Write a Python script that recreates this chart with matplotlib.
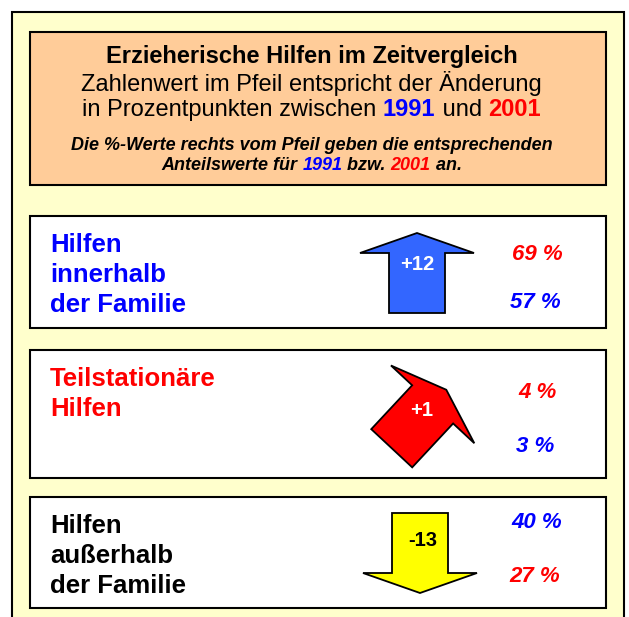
import numpy as np
import matplotlib.pyplot as plt
from matplotlib.patches import Rectangle, Polygon

plt.rcParams['font.family'] = ['Liberation Sans', 'DejaVu Sans']

# data
labels = [['Hilfen', 'innerhalb', 'der Familie'],
          ['Teilstationäre', 'Hilfen'],
          ['Hilfen', 'außerhalb', 'der Familie']]
label_colors = ['#0000FF', '#FF0000', '#000000']
arrow_colors = ['#3366FF', '#FF0000', '#FFFF00']
arrow_text_colors = ['white', 'white', 'black']
changes = ['+12', '+1', '-13']
arrow_angles = [90, 47, -90]
values_1991 = [57, 3, 40]
values_2001 = [69, 4, 27]

BLUE = '#0000FF'
RED = '#FF0000'

# layout (pixel coordinates, y down)
W, H = 629, 617
box_tops = [216, 350, 497]
box_bottoms = [328, 478, 608]
arrow_centers = [(417, 273), (419, 419), (420, 553)]
value_y = [(255, 302), (393, 447), (523, 577)]

fig = plt.figure(figsize=(W / 100, H / 100), dpi=100)
ax = fig.add_axes([0, 0, 1, 1])
ax.set_xlim(0, W)
ax.set_ylim(H, 0)
ax.axis('off')

# outer panel
ax.add_patch(Rectangle((12, 12), 612, 620, facecolor='#FFFFCC', edgecolor='black', lw=1.5))
# header
ax.add_patch(Rectangle((30, 32), 576, 153, facecolor='#FFCC99', edgecolor='black', lw=1.5))

renderer = fig.canvas.get_renderer()


def colored_line(y, parts, size, style='normal'):
    # parts: list of (text, color, weight)
    texts = []
    for s, c, w in parts:
        t = ax.text(0, y, s, color=c, fontsize=size, fontweight=w, fontstyle=style,
                    ha='left', va='center')
        texts.append(t)
    widths = [t.get_window_extent(renderer).width for t in texts]
    x = W / 2 - 3 - sum(widths) / 2
    for t, w in zip(texts, widths):
        t.set_x(x)
        x += w


ax.text(W / 2 - 3, 57, 'Erzieherische Hilfen im Zeitvergleich', fontsize=17,
        fontweight='bold', ha='center', va='center')
ax.text(W / 2 - 3, 84, 'Zahlenwert im Pfeil entspricht der Änderung', fontsize=17,
        ha='center', va='center')
colored_line(110, [('in Prozentpunkten zwischen ', 'black', 'normal'),
                   ('1991', BLUE, 'bold'), (' und ', 'black', 'normal'),
                   ('2001', RED, 'bold')], 17)
ax.text(W / 2 - 3, 145, 'Die %-Werte rechts vom Pfeil geben die entsprechenden',
        fontsize=13, fontweight='bold', fontstyle='italic', ha='center', va='center')
colored_line(166, [('Anteilswerte für ', 'black', 'bold'), ('1991', BLUE, 'bold'),
                   (' bzw. ', 'black', 'bold'), ('2001', RED, 'bold'),
                   (' an.', 'black', 'bold')], 13, style='italic')


def arrow_poly(cx, cy, angle, length=80, shaft=56, head=114, head_len=20):
    # arrow pointing along +x, centred at origin, then turned by angle (y axis points down)
    L = length / 2
    pts = np.array([[-L, -shaft / 2], [L - head_len, -shaft / 2], [L - head_len, -head / 2],
                    [L, 0], [L - head_len, head / 2], [L - head_len, shaft / 2],
                    [-L, shaft / 2]])
    a = -np.deg2rad(angle)
    rot = np.array([[np.cos(a), np.sin(a)], [-np.sin(a), np.cos(a)]])
    return pts @ rot + [cx, cy]


for i in range(3):
    top, bot = box_tops[i], box_bottoms[i]
    ax.add_patch(Rectangle((30, top), 576, bot - top, facecolor='white',
                           edgecolor='black', lw=1.5))
    for j, line in enumerate(labels[i]):
        ax.text(50, top + 36 + 30 * j, line, color=label_colors[i], fontsize=18.5,
                fontweight='bold', ha='left', va='baseline')
    cx, cy = arrow_centers[i]
    ax.add_patch(Polygon(arrow_poly(cx, cy, arrow_angles[i]), closed=True,
                         facecolor=arrow_colors[i], edgecolor='black', lw=1.3))
    ty = cy - 9 if arrow_angles[i] > 0 else cy - 13
    ax.text(cx + 3 if arrow_angles[i] != 90 else cx, ty, changes[i],
            color=arrow_text_colors[i], fontsize=14.5, fontweight='bold',
            ha='center', va='center')
    if values_2001[i] >= values_1991[i]:
        top_val, top_col, bot_val, bot_col = values_2001[i], RED, values_1991[i], BLUE
    else:
        top_val, top_col, bot_val, bot_col = values_1991[i], BLUE, values_2001[i], RED
    ax.text(537, value_y[i][0], f'{top_val} %', color=top_col, fontsize=16,
            fontweight='bold', fontstyle='italic', ha='center', va='center')
    ax.text(535, value_y[i][1], f'{bot_val} %', color=bot_col, fontsize=16,
            fontweight='bold', fontstyle='italic', ha='center', va='center')

fig.savefig('out.png', dpi=100)
